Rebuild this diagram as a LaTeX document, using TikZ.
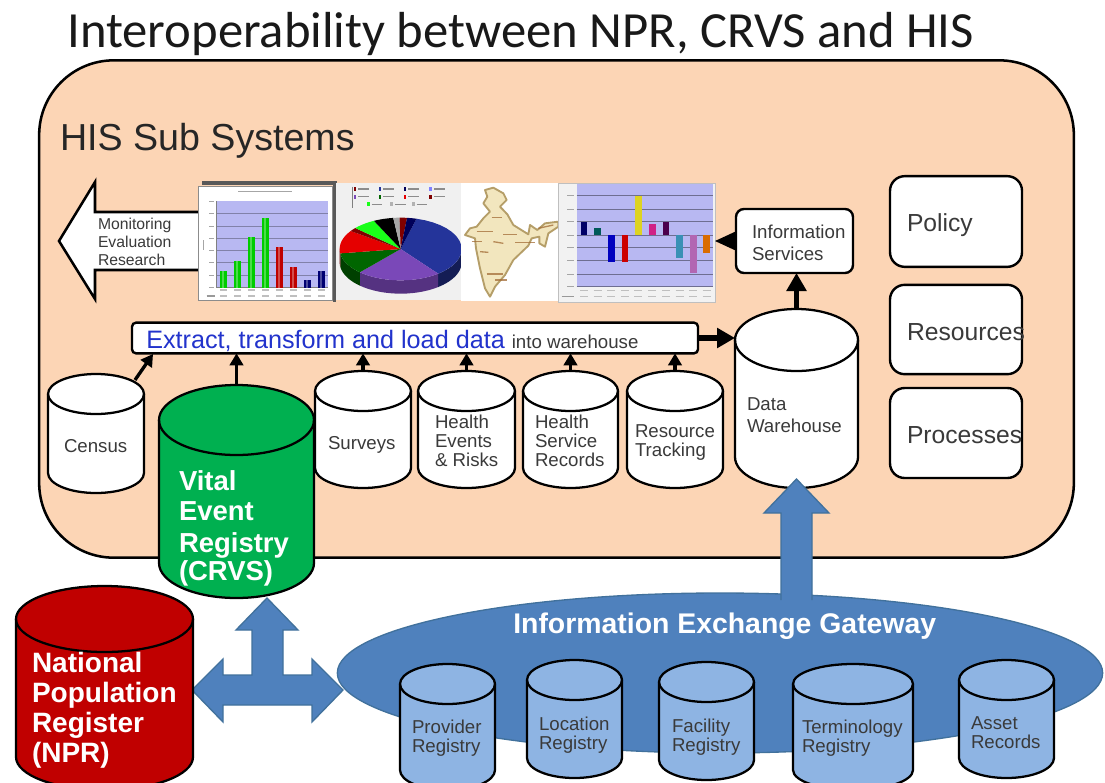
\documentclass[tikz,border=0pt]{standalone}
\usepackage{fontspec}
\setmainfont{Liberation Sans}
\newfontfamily\titlefont{Carlito}
\usetikzlibrary{shapes.geometric,arrows.meta}
\definecolor{panel}{HTML}{FCD5B5}
\definecolor{gate}{HTML}{4F81BD}
\definecolor{gateline}{HTML}{41719C}
\definecolor{lightblue}{HTML}{8EB4E3}
\definecolor{crvsgreen}{HTML}{00B050}
\definecolor{nprred}{HTML}{C00000}
\definecolor{lav}{HTML}{B8B8F2}
\definecolor{txt}{HTML}{3A3A3A}
\definecolor{etlblue}{HTML}{2233CC}
\definecolor{piepurple}{HTML}{7A48B8}
\definecolor{pieblue}{HTML}{24349A}
\definecolor{mapfill}{HTML}{F2E6BE}
\definecolor{mapline}{HTML}{B59E68}
\tikzset{
  dbline/.style={draw=black,line width=1.7pt,line join=round},
  dbnode/.style={rectangle,draw=none,fill=none,inner sep=0pt,outer sep=0pt},
  softbox/.style={rectangle,draw=black,line width=1.8pt,fill=white,inner sep=0pt,outer sep=0pt},
  lbl/.style={inner sep=0pt,outer sep=0pt,text=txt,align=left,anchor=north west,font=\fontsize{14}{14.6}\selectfont},
  lblw/.style={inner sep=0pt,outer sep=0pt,text=white,align=left,anchor=north west,font=\fontsize{21}{22.5}\selectfont\bfseries},
  big/.style={inner sep=0pt,outer sep=0pt,text=txt,anchor=base west,font=\fontsize{18.5}{20}\selectfont},
  thin arrow/.style={line width=2.5pt,-{Triangle[length=9pt,width=10pt]}},
  thick arrow/.style={line width=4.4pt,-{Triangle[length=13.5pt,width=14.5pt]}},
  blockarrow/.style={fill=gate,draw=gateline,line width=1pt,line join=miter},
}
% name, x1, x2, top, bottom, ellipse y radius, fill
\newcommand\dbcyl[7]{%
  \pgfmathsetmacro\cylC{(#2+#3)/2}%
  \pgfmathsetmacro\cylT{#4+#6}%
  \pgfmathsetmacro\cylB{#5-#6}%
  \pgfmathsetmacro\cylKx{(#3-#2)/2*.5523}%
  \pgfmathsetmacro\cylKy{#6*.5523}%
  \draw[dbline,fill=#7] (#2,\cylT) -- (#2,\cylB)
    .. controls (#2,\cylB+\cylKy) and (\cylC-\cylKx,#5) .. (\cylC,#5)
    .. controls (\cylC+\cylKx,#5) and (#3,\cylB+\cylKy) .. (#3,\cylB)
    -- (#3,\cylT)
    .. controls (#3,\cylT-\cylKy) and (\cylC+\cylKx,#4) .. (\cylC,#4)
    .. controls (\cylC-\cylKx,#4) and (#2,\cylT-\cylKy) .. (#2,\cylT) -- cycle;
  \draw[dbline] (#2,\cylT)
    .. controls (#2,\cylT+\cylKy) and (\cylC-\cylKx,#4+2*#6) .. (\cylC,#4+2*#6)
    .. controls (\cylC+\cylKx,#4+2*#6) and (#3,\cylT+\cylKy) .. (#3,\cylT);
  \pgfmathsetmacro\cylw{(#3-#2)*.75}%
  \pgfmathsetmacro\cylh{(#5-#4)*.75}%
  \node[dbnode,minimum width=\cylw pt,minimum height=\cylh pt] (#1) at (\cylC,{(#4+#5)/2}) {};%
}
\newcommand\wedgepie[3]{% start, end, colour
  \fill[#3] (632,222) -- plot[domain=#1:#2,samples=16] ({632+183*cos(\x)},{222-94*sin(\x)}) -- cycle;%
}
\newcommand\wallpie[3]{% start, end, colour
  \fill[#3] plot[domain=#1:#2,samples=16] ({632+183*cos(\x)},{222-94*sin(\x)}) -- plot[domain=#2:#1,samples=16] ({632+183*cos(\x)},{262-94*sin(\x)}) -- cycle;%
}
\begin{document}
\begin{tikzpicture}[x=0.75pt,y=-0.75pt]
\useasboundingbox (0,0) rectangle (1105,782);
\clip (0,0) rectangle (1105,782);
\fill[white] (0,0) rectangle (1105,782);

\node[inner sep=0pt,anchor=base west,text=black!90,font=\titlefont\fontsize{38}{40}\selectfont] (title) at (67,47) {Interoperability between NPR, CRVS and HIS};

\node[rectangle,draw=black,line width=1.9pt,fill=panel,rounded corners=56pt,minimum width=776pt,minimum height=373pt,inner sep=0pt] (panel) at (556.5,309) {};
\node[big,text=black!85,font=\fontsize{28.2}{30}\selectfont] (histitle) at (60,150) {HIS Sub Systems};

% white arrow
\draw[fill=white,draw=black,line width=1.9pt,line join=miter] (59,241) -- (95,182) -- (95,212) -- (205,212) -- (205,270) -- (95,270) -- (95,299) -- cycle;
\node[lbl,font=\fontsize{11.8}{13.5}\selectfont] (monitor) at (98,218.5) {Monitoring\\Evaluation\\Research};

% bar chart 1
\begin{scope}[shift={(190,175)},scale=1/3]
  \fill[black!65] (35,18) rectangle (440,30);
  \fill[black!65] (428,18) rectangle (437,382);
  \fill[white,draw=black!45,line width=0.8pt] (25,35) rectangle (428,376);
  \fill[lav] (78,78) rectangle (415,338);
  \foreach \y in {115,153,190,227,263,300} \draw[black!30!lav,line width=0.4pt] (78,\y) -- (415,\y);
  \draw[black!50,line width=0.5pt] (78,78) -- (78,338) -- (415,338);
  \foreach \x/\t/\c in {100/287/green!80!black,142/257/green!80!black,185/185/green!80!black,227/128/green!80!black,268/217/red!75!black,310/275/red!75!black,352/314/blue!45!black,395/287/blue!45!black}{
    \fill[\c] (\x-10,\t) rectangle (\x+10,338);
    \fill[\c!70!white] (\x-4,\t) rectangle (\x+2,338);
  }
  \draw[black!35,line width=1pt] (145,50) -- (305,50);
  \foreach \y in {78,115,153,190,227,263,300,338} \draw[black!35,line width=0.7pt] (58,\y) -- (72,\y);
  \draw[black!35,line width=0.8pt] (41,195) -- (41,225);
  \foreach \x in {100,142,185,227,268,310,352,395}{
    \draw[black!25,line width=0.8pt] (\x-10,345) -- (\x+10,345);
    \draw[black!25,line width=0.8pt] (\x-10,363) -- (\x+10,363);
  }
  \draw[black!40,line width=0.8pt] (50,363) -- (75,363);
\end{scope}

% pie chart
\begin{scope}[shift={(190,175)},scale=1/3]
  \fill[black!6] (437,25) rectangle (815,375);
  \wallpie{-52}{0}{pieblue!55!black}
  \wallpie{-132}{-52}{piepurple!70!black}
  \wallpie{-172}{-132}{green!25!black}
  \wallpie{-180}{-172}{red!40!black}
  \wedgepie{-52}{75}{pieblue}
  \wedgepie{-132}{-52}{piepurple}
  \wedgepie{188}{228}{green!40!black}
  \wedgepie{145}{188}{red!90!black}
  \wedgepie{138}{145}{red!50!black}
  \wedgepie{116}{138}{green!90!white}
  \wedgepie{97}{116}{black}
  \wedgepie{91}{97}{black!35}
  \wedgepie{84}{91}{red!50!black}
  \wedgepie{75}{84}{blue!35!black}
  \draw[black!50,line width=0.6pt] (487,35) -- (487,100);
  \foreach \x/\y/\c in {495/42/red!50!black,570/42/pieblue,645/42/blue!35!black,722/42/blue!50!white,495/65/piepurple,570/65/green!40!black,645/65/red!90!black,722/65/red!50!black,535/88/green!90!white,605/88/black!30,670/88/black!30}{
    \fill[\c] (\x-4,\y-6) rectangle (\x+4,\y+6);
    \draw[black!45,line width=1.2pt] (\x+10,\y) -- (\x+42,\y);
  }
\end{scope}

% map
\begin{scope}[shift={(450,175)},scale=1/3]
  \fill[white] (32,25) rectangle (330,378);
  \draw[fill=mapfill,draw=mapline,line width=1.4pt,line join=round]
    (105,45) -- (130,38) -- (160,55) -- (170,75) -- (150,95) -- (172,118) -- (190,150) -- (235,178) -- (240,150) -- (262,165) -- (285,145) -- (325,140) -- (325,155) -- (295,175) -- (285,215) -- (268,205) -- (268,185) -- (245,190) -- (235,212) -- (190,255) -- (165,300) -- (135,335) -- (120,365) -- (105,340) -- (90,280) -- (78,220) -- (75,190) -- (45,180) -- (60,160) -- (80,155) -- (100,130) -- (120,110) -- (100,85) -- (112,65) -- cycle;
  \foreach \a/\b/\c/\d in {125/127/155/127,80/170/130/170,160/178/200/178,65/200/95/200,130/200/160/205,195/203/255/203,90/230/115/232,110/297/160/297,135/315/170/315,265/160/310/150}
    \draw[brown!85!black,line width=1pt,opacity=.75] (\a,\b) -- (\c,\d);
\end{scope}

% bar chart 2
\begin{scope}[shift={(450,175)},scale=1/3]
  \fill[black!5,draw=black!25,line width=0.6pt] (325,25) rectangle (795,382);
  \fill[lav] (380,28) rectangle (790,335);
  \foreach \y in {62,102,140,180,218,257,297,335} \draw[black!40!lav,line width=0.6pt] (380,\y) -- (790,\y);
  \foreach \x/\t/\b/\c in {402/140/180/blue!40!black,443/160/180/teal!70!black,484/180/260/blue!75!black,525/180/260/red!80!black,565/62/180/yellow!85!black,607/148/180/magenta!85!black,648/140/180/violet!60!black,689/180/248/cyan!70!black,730/180/295/violet!60!white,770/180/235/orange!85!black}
    \fill[\c] (\x-10,\t) rectangle (\x+10,\b);
  \foreach \y in {62,102,140,180,218,257,297,335} \draw[black!35,line width=0.7pt] (352,\y) -- (372,\y);
  \foreach \x in {402,443,484,525,565,607,648,689,730,770}{
    \draw[black!25,line width=0.8pt] (\x-12,347) -- (\x+12,347);
    \draw[black!25,line width=0.8pt] (\x-12,365) -- (\x+12,365);
  }
  \draw[black!40,line width=0.8pt] (335,365) -- (372,365);
\end{scope}
\coordinate (chartedge) at (715,243);

% boxes
\node[softbox,rounded corners=6pt,minimum width=87.75pt,minimum height=48pt] (info) at (794.5,241) {};
\node[lbl,font=\fontsize{14}{16.5}\selectfont] (infotext) at (752,224.5) {Information\\Services};
\node[softbox,rounded corners=11pt,minimum width=99pt,minimum height=68pt] (policy) at (956,221.5) {};
\node[softbox,rounded corners=11pt,minimum width=99pt,minimum height=67pt] (resources) at (956,329.5) {};
\node[softbox,rounded corners=11pt,minimum width=99pt,minimum height=67.5pt] (processes) at (956,433) {};
\node[big] (policytext) at (907,231) {Policy};
\node[big] (resourcestext) at (907,340) {Resources};
\node[big] (processestext) at (907,443) {Processes};

% ETL box
\node[softbox,rounded corners=3pt,minimum width=424.5pt,minimum height=23pt] (etl) at (415,338) {};
\node[inner sep=0pt,anchor=base west,font=\fontsize{18.9}{20}\selectfont] (etltext) at (146,348) {\textcolor{etlblue}{Extract, transform and load data} \textcolor{txt}{\fontsize{14}{15}\selectfont into warehouse}};

% cylinders
\dbcyl{census}{48}{144}{374}{493}{20}{white}
\dbcyl{surveys}{315}{411}{371}{488}{20}{white}
\dbcyl{events}{418}{515}{371}{488}{20}{white}
\dbcyl{records}{523}{618}{371}{488}{20}{white}
\dbcyl{tracking}{627}{723}{371}{488}{20}{white}
\dbcyl{warehouse}{735}{858}{309}{488}{31}{white}
\dbcyl{crvs}{159}{314}{385}{598}{35}{crvsgreen}

\node[lbl] (censustext) at (64,439.5) {Census};
\node[lbl] (surveystext) at (328,436.5) {Surveys};
\node[lbl] (eventstext) at (435,414.5) {Health\\Events\\\& Risks};
\node[lbl] (recordstext) at (535,414.5) {Health\\Service\\Records};
\node[lbl] (trackingtext) at (635,424.5) {Resource\\Tracking};
\node[lbl,font=\fontsize{14}{16.5}\selectfont] (warehousetext) at (747,397.5) {Data\\Warehouse};
\node[lblw,font=\fontsize{20.6}{22}\selectfont\bfseries] (crvstext) at (179,471) {Vital\\Event\\[2pt]Registry\\[-0.5pt](CRVS)};

% connectors
\coordinate (censusout) at (135,380);
\coordinate (censusin) at (153,354);
\draw[thin arrow] (censusout) -- (censusin);
\draw[thin arrow] (crvs.north) -- (crvs.north |- etl.south);
\draw[thin arrow] (surveys.north) -- (surveys.north |- etl.south);
\draw[thin arrow] (events.north) -- (events.north |- etl.south);
\draw[thin arrow] (records.north) -- (records.north |- etl.south);
\draw[thin arrow] (tracking.north) -- (tracking.north |- etl.south);
\draw[thick arrow] (etl.east) -- (etl.east -| warehouse.west);
\draw[thick arrow] (warehouse.north) -- (warehouse.north |- info.south);
\draw[line width=1pt,-{Triangle[length=16pt,width=14.5pt]}] (info.west) -- (info.west -| chartedge);

% gateway
\node[ellipse,fill=gate,draw=gateline,line width=1pt,minimum width=574pt,minimum height=120pt,inner sep=0pt] (gateway) at (720,673) {};
\draw[blockarrow] (781,600) -- (781,513) -- (764,513) -- (796.5,479) -- (829,513) -- (812,513) -- (812,600);
\fill[gate] (782,590) rectangle (811,605);
\node[inner sep=0pt,anchor=base west,text=white,font=\fontsize{21.3}{24}\selectfont\bfseries] (gatetext) at (513,633) {Information Exchange Gateway};

\dbcyl{provider}{400}{495}{664}{790}{20}{lightblue}
\dbcyl{location}{527}{622}{660}{778}{20}{lightblue}
\dbcyl{facility}{659}{754}{662}{780}{20}{lightblue}
\dbcyl{terminology}{793}{913}{664}{790}{20}{lightblue}
\dbcyl{asset}{959}{1054}{660}{778}{20}{lightblue}
\node[lbl] (providertext) at (412,719.5) {Provider\\Registry};
\node[lbl] (locationtext) at (539,716.5) {Location\\Registry};
\node[lbl] (facilitytext) at (672,718.5) {Facility\\Registry};
\node[lbl] (terminologytext) at (802,719.5) {Terminology\\Registry};
\node[lbl] (assettext) at (971,716.5) {Asset\\Records};

% T arrow
\draw[blockarrow] (192,690) -- (223,659) -- (223,675) -- (252,675) -- (252,630) -- (236,630) -- (267,598) -- (298,630) -- (283,630) -- (283,675) -- (312,675) -- (312,659) -- (343,690) -- (312,722) -- (312,705) -- (223,705) -- (223,722) -- cycle;

% NPR
\dbcyl{npr}{16}{193}{586}{790}{33}{nprred}
\node[lblw] (nprtext) at (32,652) {National\\Population\\Register\\(NPR)};
\end{tikzpicture}
\end{document}
